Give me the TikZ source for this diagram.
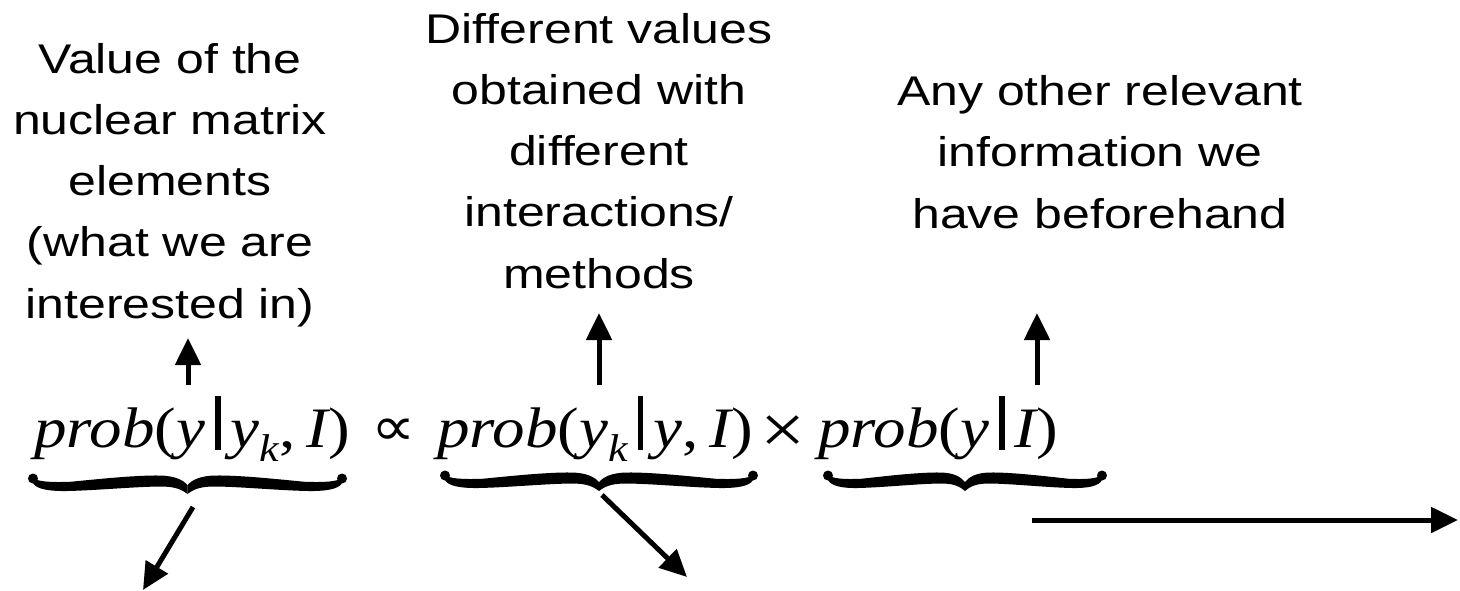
\documentclass[tikz,border=0pt]{standalone}
\usepackage{fontspec}
\setmainfont{Liberation Sans}
\newfontfamily\eqfont{Liberation Serif}
\newfontfamily\symfont{DejaVu Sans}
\usetikzlibrary{arrows.meta}
\newcommand\vbarsym{\hspace{0.16em}\rule[-0.05em]{0.078em}{0.95em}\hspace{0.16em}}
\newcommand\subk{\raisebox{-0.26em}{\fontsize{44}{44}\selectfont\itshape k}}
\tikzset{
  lbl/.style={font=\fontsize{50}{73.5}\selectfont, align=center, inner sep=0pt,
              yscale=0.83, transform shape, anchor=base},
  eq/.style={font=\fontsize{65}{70}\selectfont\eqfont, inner sep=0pt,
             yscale=0.88, transform shape, anchor=base west},
  arr/.style={line width=5pt, -{Triangle[length=27pt,width=25pt]}},
  pics/ubrace/.style={code={
    \fill (0,18) .. controls ({-0.05*#1},12) and ({-0.1*#1},10.5) .. ({-0.18*#1},10.5)
      .. controls ({-0.35*#1},10.8) and ({-0.6*#1},14.5) .. ({-0.78*#1},15)
      .. controls ({-0.9*#1},15.3) and ({-#1+3},13) .. ({-#1},7) -- ({-#1},2)
      .. controls ({-#1+5},5.5) and ({-0.9*#1},6.5) .. ({-0.76*#1},5.8)
      .. controls ({-0.6*#1},3.5) and ({-0.35*#1},-0.8) .. ({-0.18*#1},-0.5)
      .. controls ({-0.08*#1},-0.2) and ({-0.03*#1},4) .. (0,9) -- cycle;
    \fill (0,18) .. controls ({0.05*#1},12) and ({0.1*#1},10.5) .. ({0.18*#1},10.5)
      .. controls ({0.35*#1},10.8) and ({0.6*#1},14.5) .. ({0.78*#1},15)
      .. controls ({0.9*#1},15.3) and ({#1-3},13) .. ({#1},7) -- ({#1},2)
      .. controls ({#1-5},5.5) and ({0.9*#1},6.5) .. ({0.76*#1},5.8)
      .. controls ({0.6*#1},3.5) and ({0.35*#1},-0.8) .. ({0.18*#1},-0.5)
      .. controls ({0.08*#1},-0.2) and ({0.03*#1},4) .. (0,9) -- cycle;
    \fill ({-#1},2.5) circle (5);
    \fill ({#1},2.5) circle (5);
  }}
}
\begin{document}
\begin{tikzpicture}[x=1pt,y=-1pt]
\useasboundingbox (0,0) rectangle (1460,591);
% text blocks (base = baseline of last line)
\node[lbl] (t1) at (170,318) {Value of the\\nuclear matrix\\elements\\(what we are\\interested in)};
\node[lbl] (t2) at (599,288) {Different values\\obtained with\\different\\interactions/\\methods};
\node[lbl] (t3) at (1100,228) {Any other relevant\\information we\\have beforehand};
% equation
\node[eq] (e1) at (34,447) {\itshape prob\upshape(\itshape y\upshape\vbarsym\itshape y\subk\upshape,\,\itshape I\upshape)};
\node[eq, anchor=base, font=\fontsize{62}{64}\selectfont\symfont] (prop) at (394,445) {∝};
\node[eq] (e2) at (437,447) {\itshape prob\upshape(\itshape y\subk\upshape\vbarsym\itshape y\upshape,\,\itshape I\upshape)};
\node[eq, anchor=base, font=\fontsize{80}{80}\selectfont\eqfont] (times) at (783,453) {×};
\node[eq] (e3) at (818,447) {\itshape prob\upshape(\itshape y\upshape\vbarsym\itshape I\upshape)};
% braces
\pic at (187.5,476) {ubrace=154.5};
\pic at (599,473) {ubrace=154};
\pic at (965,473) {ubrace=137};
% arrow end points
\coordinate (u1s) at (188,385); \coordinate (u1e) at (188,338);
\coordinate (u2s) at (599,385); \coordinate (u2e) at (599,313);
\coordinate (u3s) at (1037,385); \coordinate (u3e) at (1037,313);
\coordinate (d1s) at (193,507); \coordinate (d1e) at (143,590);
\coordinate (d2s) at (602,495); \coordinate (d2e) at (687,577);
\coordinate (hs) at (1032,520); \coordinate (he) at (1458,520);
\draw[arr] (u1s) -- (u1e);
\draw[arr] (u2s) -- (u2e);
\draw[arr] (u3s) -- (u3e);
\draw[arr] (d1s) -- (d1e);
\draw[arr] (d2s) -- (d2e);
\draw[arr] (hs) -- (he);
\end{tikzpicture}
\end{document}
